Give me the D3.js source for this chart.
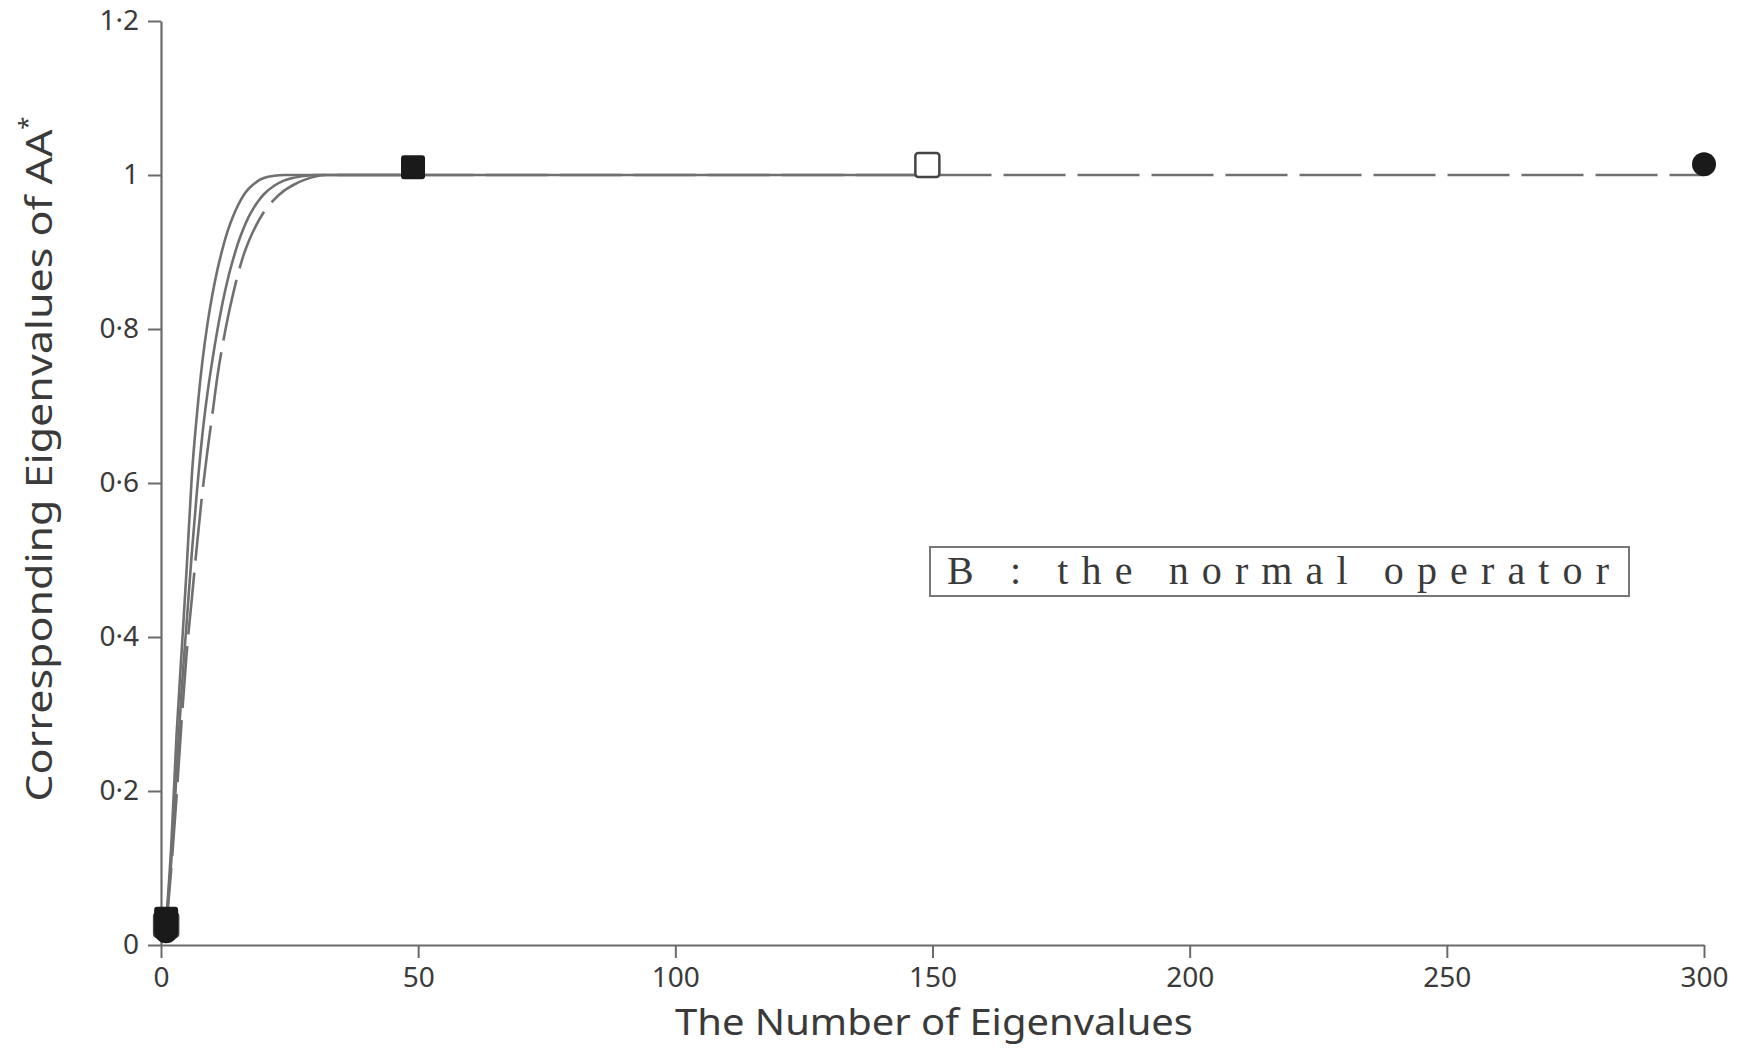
<!DOCTYPE html>
<html>
<head>
<meta charset="utf-8">
<script src="https://cdn.jsdelivr.net/npm/d3@7/dist/d3.min.js"></script>
<style>
  body { margin: 0; background: #fff; }
  svg { display: block; background: #fff; }
</style>
</head>
<body>
<svg id="chart" width="1752" height="1049"></svg>
<script>
// eigenvalues of AA* — normal operator B, three sizes of the problem

// axis ticks
const xTicks = [0, 50, 100, 150, 200, 250, 300];
const yTicks = [0, 0.2, 0.4, 0.6, 0.8, 1, 1.2];

// first curve (solid, ends with filled square)
const s1X = [1, 2, 3, 4, 5, 6, 7, 8, 9, 10, 11, 12, 13, 14, 15, 16, 17, 18, 19, 20, 22, 24, 49];
const s1Y = [0.03, 0.13, 0.27, 0.38, 0.49, 0.61, 0.69, 0.755, 0.805, 0.845, 0.878, 0.905, 0.928, 0.946, 0.961, 0.973, 0.982, 0.988, 0.993, 0.996, 0.999, 1.0, 1.0];

// second curve (solid, ends with open square)
const s2X = [1, 2, 3, 4, 5, 6, 7, 8, 9, 10, 11, 12, 13, 14, 15, 16, 17, 18, 19, 20, 22, 24, 27, 30, 149];
const s2Y = [0.03, 0.11, 0.22, 0.33, 0.42, 0.51, 0.59, 0.66, 0.715, 0.76, 0.80, 0.835, 0.865, 0.89, 0.912, 0.93, 0.945, 0.957, 0.967, 0.975, 0.986, 0.993, 0.998, 1.0, 1.0];

// third curve (dashed, ends with filled circle)
const s3X = [1, 2, 3, 4, 5, 6, 7, 8, 9, 10, 11, 12, 13, 14, 15, 16, 17, 18, 20, 22, 24, 26, 28, 32, 300];
const s3Y = [0.02, 0.10, 0.19, 0.29, 0.38, 0.45, 0.52, 0.585, 0.64, 0.69, 0.74, 0.78, 0.815, 0.845, 0.872, 0.895, 0.913, 0.928, 0.952, 0.968, 0.98, 0.988, 0.994, 1.0, 1.0];

// markers: start and end of every curve
const markerX = [1, 1, 1, 49, 149, 300];
const markerY = [0.026, 0.018, 0.034, 1.01, 1.013, 1.014];
const markerShape = ["open", "circle", "filled", "filled", "open", "circle"];

const legendText = "B : the normal operator";

const attr_area = {
   left: 161,
   right: 1704,
   top: 21,
   bottom: 945
};

const svg = d3.select("#chart");

const scaleX = d3.scaleLinear()
   .domain([0, 300])
   .range([attr_area.left, attr_area.right]);

const scaleY = d3.scaleLinear()
   .domain([0, 1.2])
   .range([attr_area.bottom, attr_area.top]);

const axisColor = "#6a6a6a";
const textColor = "#3a3a3a";
const sansFont = "'Noto Sans', 'DejaVu Sans', sans-serif";

// x axis
const gX = svg.append("g")
   .attr("transform", `translate(0, ${attr_area.bottom})`)
   .call(d3.axisBottom(scaleX).tickValues(xTicks).tickSizeInner(13).tickSizeOuter(0).tickPadding(9));

// y axis
const gY = svg.append("g")
   .attr("transform", `translate(${scaleX(0)}, 0)`)
   .call(d3.axisLeft(scaleY)
       .tickValues(yTicks)
       .tickSizeInner(13)
       .tickSizeOuter(0)
       .tickPadding(9)
       .tickFormat(d => d3.format(".1~f")(d).replace(".", "·")));

[gX, gY].forEach(g => {
   g.select(".domain").attr("stroke", axisColor).attr("stroke-width", 2.2);
   g.selectAll(".tick line").attr("stroke", axisColor).attr("stroke-width", 2);
   g.selectAll(".tick text")
       .attr("fill", textColor)
       .style("font-family", sansFont)
       .style("font-size", "28px");
});

// axis titles
svg.append("text")
   .attr("x", 934)
   .attr("y", 1035)
   .attr("text-anchor", "middle")
   .attr("textLength", 518)
   .attr("lengthAdjust", "spacingAndGlyphs")
   .attr("fill", textColor)
   .style("font-family", sansFont)
   .style("font-size", "37px")
   .text("The Number of Eigenvalues");

const yTitle = svg.append("text")
   .attr("transform", "translate(52, 459) rotate(-90)")
   .attr("text-anchor", "middle")
   .attr("fill", textColor)
   .style("font-family", sansFont)
   .style("font-size", "37px");
yTitle.append("tspan")
   .attr("textLength", 672)
   .attr("lengthAdjust", "spacingAndGlyphs")
   .text("Corresponding Eigenvalues of AA");
yTitle.append("tspan").attr("dy", -16).style("font-size", "24px").text("*");

// curves
const line = d3.line()
   .x(d => scaleX(d[0]))
   .y(d => scaleY(d[1]))
   .curve(d3.curveMonotoneX);

const series = [
   { data: d3.zip(s3X, s3Y), dash: "62 12" },
   { data: d3.zip(s2X, s2Y), dash: null },
   { data: d3.zip(s1X, s1Y), dash: null }
];

series.forEach(s => {
   svg.append("path")
       .datum(s.data)
       .attr("fill", "none")
       .attr("stroke", "#707070")
       .attr("stroke-width", 2.6)
       .attr("stroke-dasharray", s.dash)
       .attr("d", line);
});

// markers
const markers = d3.zip(markerX, markerY, markerShape);
const side = 24;

markers.forEach(([mx, my, shape]) => {
   const cx = scaleX(mx);
   const cy = scaleY(my);
   if (shape === "circle") {
       svg.append("circle")
           .attr("cx", cx)
           .attr("cy", cy)
           .attr("r", 12)
           .attr("fill", "#1a1a1a");
   } else {
       svg.append("rect")
           .attr("x", cx - side / 2)
           .attr("y", cy - side / 2)
           .attr("width", side)
           .attr("height", side)
           .attr("rx", 3)
           .attr("fill", shape === "filled" ? "#1a1a1a" : "#fff")
           .attr("stroke", shape === "filled" ? "none" : "#444")
           .attr("stroke-width", 2.5);
   }
});

// legend box
svg.append("rect")
   .attr("x", 930)
   .attr("y", 547)
   .attr("width", 699)
   .attr("height", 49)
   .attr("fill", "#fff")
   .attr("stroke", "#777")
   .attr("stroke-width", 2);

svg.append("text")
   .attr("x", 947)
   .attr("y", 584)
   .attr("textLength", 662)
   .attr("lengthAdjust", "spacing")
   .attr("fill", textColor)
   .style("font-family", "'Liberation Serif', 'DejaVu Serif', serif")
   .style("font-size", "40px")
   .text(legendText);
</script>
</body>
</html>
